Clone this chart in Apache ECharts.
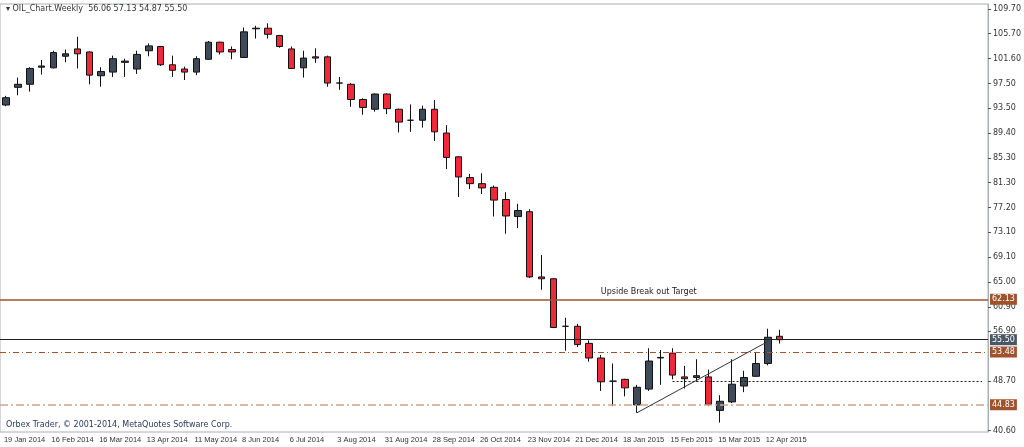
<!DOCTYPE html>
<html><head><meta charset="utf-8">
<script src="https://cdn.jsdelivr.net/npm/echarts@6/dist/echarts.min.js"></script>
<style>html,body{margin:0;padding:0;background:#fff}#c{width:1024px;height:447px}</style>
</head><body><div id="c"></div>
<script>
const startDate = '2014-01-19';
const opens  = [94.0,96.9,97.4,100.2,100.1,102.0,103.2,102.7,98.8,99.4,101.0,99.9,102.9,103.6,100.6,99.9,99.4,101.5,104.3,103.1,101.8,106.5,106.6,105.4,103.2,100.1,101.9,101.9,97.6,97.4,94.9,93.3,95.8,93.3,91.5,91.5,93.3,89.4,85.5,82.1,81.1,80.5,78.5,75.7,76.5,65.8,65.5,57.7,57.7,54.9,52.5,48.7,49.0,44.8,47.4,52.5,53.3,49.4,49.3,49.4,43.9,45.3,47.9,49.5,51.6,56.06];
const closes = [95.2,97.4,100.0,100.4,102.6,102.4,102.4,98.9,99.5,101.6,101.2,102.3,103.7,100.6,99.7,99.4,101.6,104.3,102.7,102.7,106.0,106.6,105.6,103.6,100.0,101.7,101.7,97.6,97.6,94.9,93.6,95.8,93.4,91.2,91.5,93.3,89.6,85.4,82.2,81.1,80.4,78.4,75.8,76.7,65.8,65.5,57.5,57.7,54.7,52.5,48.6,48.7,47.6,47.7,52.0,52.6,49.7,49.1,49.6,44.9,45.4,48.2,49.3,51.6,55.9,55.50];
const lows   = [93.8,95.6,96.2,99.0,100.0,101.0,100.0,97.4,97.0,98.6,98.6,99.1,102.0,100.4,98.6,98.1,98.9,101.4,102.3,101.5,101.7,104.9,104.9,103.4,99.9,98.5,100.9,97.0,96.5,93.7,92.4,92.9,92.5,89.5,89.6,90.3,88.1,83.5,78.9,80.2,79.4,75.7,72.9,73.8,65.6,63.7,57.4,53.7,54.3,51.9,47.1,44.6,46.2,43.5,47.1,48.1,49.0,47.5,48.6,44.6,41.9,45.1,46.9,49.4,51.3,54.87];
const highs  = [95.5,98.5,100.2,101.4,102.9,103.1,105.2,102.8,100.2,102.1,101.6,102.9,104.1,103.7,102.1,100.3,102.0,104.5,104.4,103.6,106.7,107.0,107.4,105.5,103.6,102.9,103.3,102.1,98.6,97.6,95.1,95.9,95.9,93.4,94.1,93.9,94.8,90.7,85.6,82.7,82.8,80.8,79.7,77.8,76.9,69.4,65.6,59.1,58.1,55.4,53.0,51.6,49.1,48.1,54.1,53.8,54.1,51.2,52.3,50.6,46.4,52.3,50.4,53.4,57.3,57.13];
const priceTicks = [109.70,105.70,101.60,97.50,93.50,89.40,85.30,81.30,77.20,73.10,69.10,65.00,60.90,56.90,48.70,40.60];
const levels = {target:62.13, last:55.50, res:53.48, mid:48.70, sup:44.83};
const trendFrom = [53, 43.5], trendTo = [64, 55.2];
const totalSlots = 83;

const cats = [];
const d0 = new Date(startDate + 'T00:00:00Z');
const mon = ['Jan','Feb','Mar','Apr','May','Jun','Jul','Aug','Sep','Oct','Nov','Dec'];
for (let i = 0; i < totalSlots; i++) {
  const d = new Date(d0.getTime() + i * 7 * 86400000);
  cats.push(d.getUTCDate() + ' ' + mon[d.getUTCMonth()] + ' ' + d.getUTCFullYear());
}
const ohlc = opens.map((o, i) => [o, closes[i], lows[i], highs[i]]);

const chart = echarts.init(document.getElementById('c'));
const lbl = (bg, fg) => ({show:true, position:'end', formatter: p => p.value.toFixed(2), backgroundColor:bg, color:fg||'#fff', fontSize:8, fontFamily:'DejaVu Sans', padding:[2,2,1,2], distance:2});
chart.setOption({
  animation:false,
  graphic:[
    {type:'text', left:6, top:5, style:{text:'▾ OIL_Chart.Weekly  56.06 57.13 54.87 55.50', fontSize:8, fill:'#333', fontFamily:'DejaVu Sans'}},
    {type:'text', left:6, top:421, style:{text:'Orbex Trader, © 2001-2014, MetaQuotes Software Corp.', fontSize:8, fill:'#2a3a5a', fontFamily:'DejaVu Sans'}}
  ],
  grid:{left:-2, right:31, top:4, bottom:15, show:true, borderColor:'#a8b0b8', borderWidth:1},
  xAxis:{type:'category', data:cats, boundaryGap:true,
    axisLine:{show:false}, axisTick:{show:false}, splitLine:{show:false},
    axisLabel:{interval:(i)=> i % 4 === 0 && i <= 64, hideOverlap:false, fontSize:7.5, color:'#333', fontFamily:'Liberation Sans', align:'left', margin:4, padding:[0,0,0,-2]}},
  yAxis:{type:'value', position:'right', min:40.36, max:110.57, scale:true,
    axisLine:{show:true, lineStyle:{color:'#a8b0b8'}}, splitLine:{show:false},
    axisTick:{show:true, length:3, inside:false, customValues:priceTicks, lineStyle:{color:'#555'}},
    axisLabel:{customValues:priceTicks, formatter:v=>v.toFixed(2), fontSize:8, color:'#333', fontFamily:'DejaVu Sans', margin:5}},
  series:[{
    type:'candlestick', data:ohlc, barWidth:7,
    itemStyle:{color:'#3e4a5a', color0:'#f0283c', borderColor:'#111', borderColor0:'#111', borderWidth:1},
    markLine:{symbol:'none', silent:true, animation:false, data:[
      {yAxis:levels.target, lineStyle:{color:'#a0522d', type:'solid', width:1.5}, label:lbl('#a0522d')},
      {yAxis:levels.last, lineStyle:{color:'#222', type:'solid', width:1}, label:lbl('#4a5866')},
      {yAxis:levels.res, lineStyle:{color:'#a0522d', type:[6,3,1,3], width:1}, label:lbl('#a0522d')},
      {yAxis:levels.sup, lineStyle:{color:'#c9a88e', type:[8,3,2,3], width:1.5}, label:lbl('#a0522d')},
      [{coord:[cats[56], levels.mid], lineStyle:{color:'#222', type:[2,2], width:1}, label:{show:false}}, {coord:[cats[totalSlots-1], levels.mid]}],
      [{coord:[cats[trendFrom[0]], trendFrom[1]], lineStyle:{color:'#333', type:'solid', width:1}, label:{show:false}}, {coord:[cats[trendTo[0]], trendTo[1]]}]
    ]},
    markPoint:{symbol:'circle', symbolSize:0, silent:true, data:[
      {coord:[cats[54], levels.target], label:{show:true, formatter:'Upside Break out Target', position:'top', distance:3, color:'#222', fontSize:8, fontFamily:'DejaVu Sans'}}
    ]}
  }]
});
</script></body></html>
